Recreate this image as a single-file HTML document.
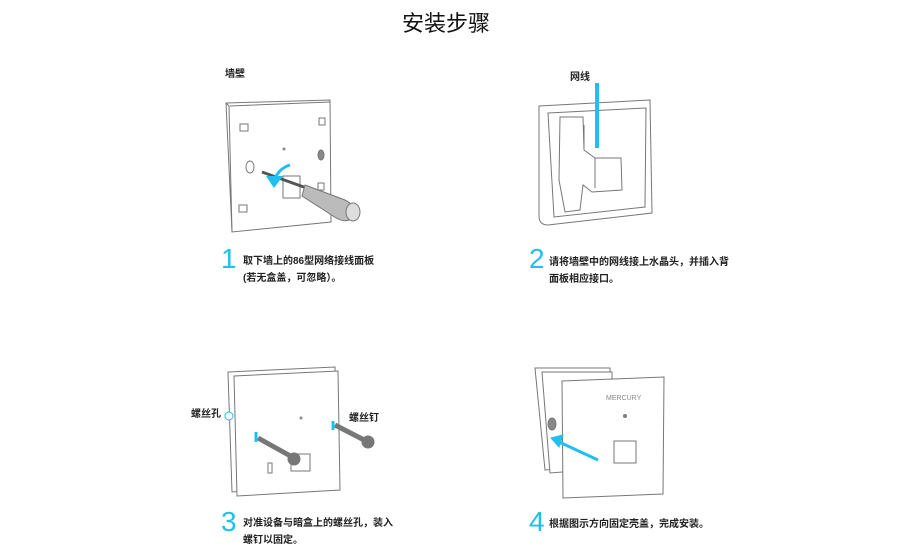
<!DOCTYPE html>
<html><head><meta charset="utf-8"><style>
body{margin:0;width:916px;height:557px;background:#fff;overflow:hidden;font-family:"Liberation Sans","Noto Sans CJK SC",sans-serif}
svg{position:absolute;left:0;top:0}
.t{position:absolute;font-size:10px;color:#222;line-height:17px;font-weight:bold}
.n{position:absolute;font-size:28px;color:#1fc0f0;font-family:"Liberation Sans",sans-serif;line-height:28px}
</style></head><body>
<div style="position:absolute;left:0;width:892px;top:6px;text-align:center;font-size:22px;color:#111;font-family:'Liberation Sans','Noto Sans CJK SC',sans-serif">安装步骤</div>
<svg width="916" height="557" fill="none" stroke="#777" stroke-width="1">
<!-- panel 1 -->
<path d="M226 103 L330 100 L331 222 L232 232 Z" fill="#fff"/>
<path d="M230 106 L330 102 M232 232 L229 106 L226 103" />
<rect x="240" y="124" width="8" height="7"/><rect x="319" y="118" width="6" height="7"/>
<rect x="239" y="205" width="8" height="7"/><rect x="318" y="183" width="6" height="7"/>
<rect x="283" y="176" width="17" height="22"/>
<ellipse cx="250" cy="167" rx="4" ry="6"/><ellipse cx="321" cy="155" rx="3" ry="5" fill="#888"/>
<circle cx="284" cy="149" r="1"/>
<path d="M262 172 L312 190" stroke="#555" stroke-width="3"/>
<path d="M305 185 L345 200 Q360 208 352 218 Q345 225 330 214 L302 196 Z" fill="#bbb"/>
<ellipse cx="353" cy="212" rx="7" ry="9" fill="#ddd"/>
<path d="M290 165 Q280 168 275 178" stroke="#1fc0f0" stroke-width="3"/>
<path d="M266 176 L283 176 L274 188 Z" fill="#1fc0f0" stroke="none"/>
<!-- panel 2 -->
<path d="M539 106 L650 100 L652 213 L548 225 Q539 225 539 216 Z" fill="#fff"/>
<path d="M548 113 L646 108 L645 207 L554 217 Z"/>
<path d="M560 117 L583 117 L584 150 L595 158 L621 158 L622 190 L592 192 L583 185 L580 210 L565 212 L559 180 Z" fill="#fff"/>
<path d="M584 125 L584 150 M595 158 L595 188"/>
<path d="M597 83 L597 148" stroke="#1fc0f0" stroke-width="4"/>
<!-- panel 3 -->
<path d="M228 372 L335 367 L338 483 L232 492 Z" fill="#fff"/>
<path d="M234 376 L338 371 L340 490 L237 496 Z" fill="#fff"/>
<rect x="291" y="454" width="19" height="17"/>
<circle cx="301" cy="418" r="1"/>
<path d="M258 438 L294 458" stroke="#777" stroke-width="5"/>
<circle cx="294" cy="459" r="6" fill="#777"/>
<path d="M335 425 L368 442" stroke="#777" stroke-width="5"/>
<circle cx="368" cy="442" r="6" fill="#777"/>
<path d="M256 432 L256 442 M333 421 L333 430" stroke="#1fc0f0" stroke-width="3"/>
<circle cx="229" cy="416" r="4" stroke="#1fc0f0" fill="#fff"/>
<rect x="268" y="463" width="4" height="10"/>
<!-- panel 4 -->
<path d="M535 368 L610 368 L612 465 L545 470 Z" fill="#fff"/>
<path d="M542 372 L612 372 L613 468 L550 473 Z" fill="#fff"/>
<ellipse cx="552" cy="424" rx="4" ry="6" fill="#888"/>
<path d="M562 381 L664 377 L663 494 L563 498 Z" fill="#fff"/>
<text x="606" y="400" font-size="7" fill="#888" stroke="none" font-family="Liberation Sans">MERCURY</text>
<circle cx="625" cy="416" r="1.5" fill="#888"/>
<rect x="614" y="441" width="22" height="22"/>
<path d="M598 460 L557 441" stroke="#1fc0f0" stroke-width="3"/>
<path d="M551 438 L563 435 L559 447 Z" fill="#1fc0f0" stroke="#1fc0f0"/>
</svg>
<div class="t" style="left:225px;top:66px">墙壁</div>
<div class="t" style="left:570px;top:69px">网线</div>
<div class="t" style="left:191px;top:406px">螺丝孔</div>
<div class="t" style="left:349px;top:410px">螺丝钉</div>
<div class="n" style="left:221px;top:245px">1</div>
<div class="t" style="left:243px;top:253px">取下墙上的86型网络接线面板<br>(若无盒盖，可忽略）。</div>
<div class="n" style="left:529px;top:245px">2</div>
<div class="t" style="left:549px;top:254px">请将墙壁中的网线接上水晶头，并插入背<br>面板相应接口。</div>
<div class="n" style="left:221px;top:508px">3</div>
<div class="t" style="left:243px;top:515px">对准设备与暗盒上的螺丝孔，装入<br>螺钉以固定。</div>
<div class="n" style="left:529px;top:508px">4</div>
<div class="t" style="left:549px;top:516px">根据图示方向固定壳盖，完成安装。</div>
</body></html>
